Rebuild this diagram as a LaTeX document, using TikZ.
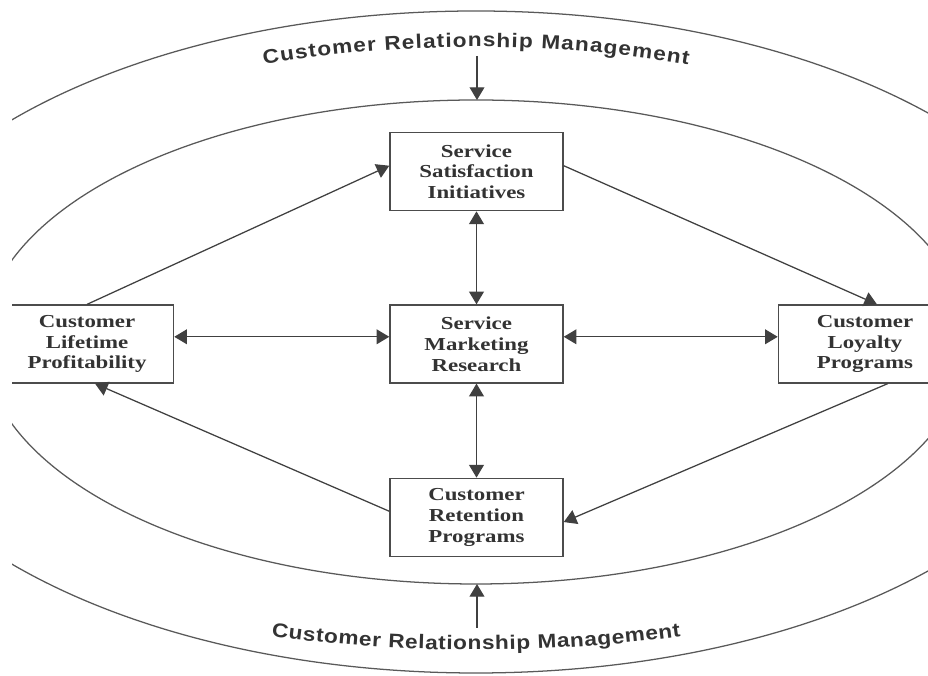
\documentclass[tikz,border=0pt]{standalone}
\usepackage{fontspec}
\setmainfont{Liberation Serif}
\setsansfont{Liberation Sans}
\newfontfamily\boxfont{Liberation Serif}[FakeStretch=1.25]
\newfontfamily\ringfont{Liberation Sans}[FakeStretch=1.15]
\usetikzlibrary{arrows.meta, positioning, calc, decorations.text}

\newcommand{\crmfont}{\ringfont\bfseries\fontsize{14}{16}\selectfont}

\tikzset{
  box/.style={draw=black!70, line width=0.9pt, fill=white, minimum width=4.33cm,
    minimum height=1.95cm, inner sep=0pt, align=center, text=black!80,
    font=\boxfont\fontsize{13}{14.8}\selectfont\bfseries},
  link/.style={-{Triangle[length=9pt,width=10.5pt]}, line width=0.9pt, draw=black!75},
  twoway/.style={{Triangle[length=9pt,width=10.5pt]}-{Triangle[length=9pt,width=10.5pt]},
    line width=0.9pt, draw=black!75},
  ring/.style={draw=black!65, line width=0.9pt},
  crmtext/.style={decorate, decoration={text along path, text align={fit to path},
    text color=black!80, text={|\crmfont|#1}}}
}

\begin{document}
\begin{tikzpicture}
    \useasboundingbox (0,0) rectangle (23.2,16.9);
    \clip (0.3,0) rectangle (23.2,16.9);
    % the two rings
    \coordinate (c) at (11.9,8.35);
    \draw[ring] (c) ellipse[x radius=15.65cm, y radius=8.275cm];
    \draw[ring] (c) ellipse[x radius=12.325cm, y radius=6.05cm];
    % curved labels
    \path[crmtext={Customer Relationship Management}]
        ($(c)+(110:15.5cm and 7.375cm)$) arc[start angle=110, end angle=70, x radius=15.5cm, y radius=7.375cm];
    \path[crmtext={Customer Relationship Management}]
        ($(c)+(253:17.5cm and 7.7cm)$) arc[start angle=253, end angle=287, x radius=17.5cm, y radius=7.7cm];
    % boxes
    \node[box] (smr) at (11.9125,8.3) {Service\\Marketing\\Research};
    \node[box, above=2.325cm of smr] (ssi) {Service\\Satisfaction\\Initiatives};
    \node[box, below=2.35cm of smr] (crp) {Customer\\Retention\\Programs};
    \node[box, left=5.375cm of smr] (clp) {Customer\\Lifetime\\Profitability};
    \node[box, right=5.35cm of smr] (loy) {Customer\\Loyalty\\Programs};
    % arrows
    \draw[twoway] (ssi) -- (smr);
    \draw[twoway] (smr) -- (crp);
    \draw[twoway] ([yshift=0.18cm]clp.east) -- ([yshift=0.18cm]smr.west);
    \draw[twoway] ([yshift=0.18cm]smr.east) -- ([yshift=0.18cm]loy.west);
    \draw[link] (clp.north) -- ([yshift=0.15cm]ssi.west);
    \draw[link] ([yshift=0.15cm]ssi.east) -- ([xshift=0.3cm]loy.north);
    \draw[link] ([xshift=0.57cm]loy.south) -- ([yshift=-0.12cm]crp.east);
    \draw[link] ([yshift=0.15cm]crp.west) -- ([xshift=0.2cm]clp.south);
    \coordinate (crmN) at (11.925,15.5);
    \coordinate (ringN) at (11.925,14.4);
    \coordinate (crmS) at (11.925,1.2);
    \coordinate (ringS) at (11.925,2.3);
    \draw[link] (crmN) -- (ringN);
    \draw[link] (crmS) -- (ringS);
\end{tikzpicture}
\end{document}
